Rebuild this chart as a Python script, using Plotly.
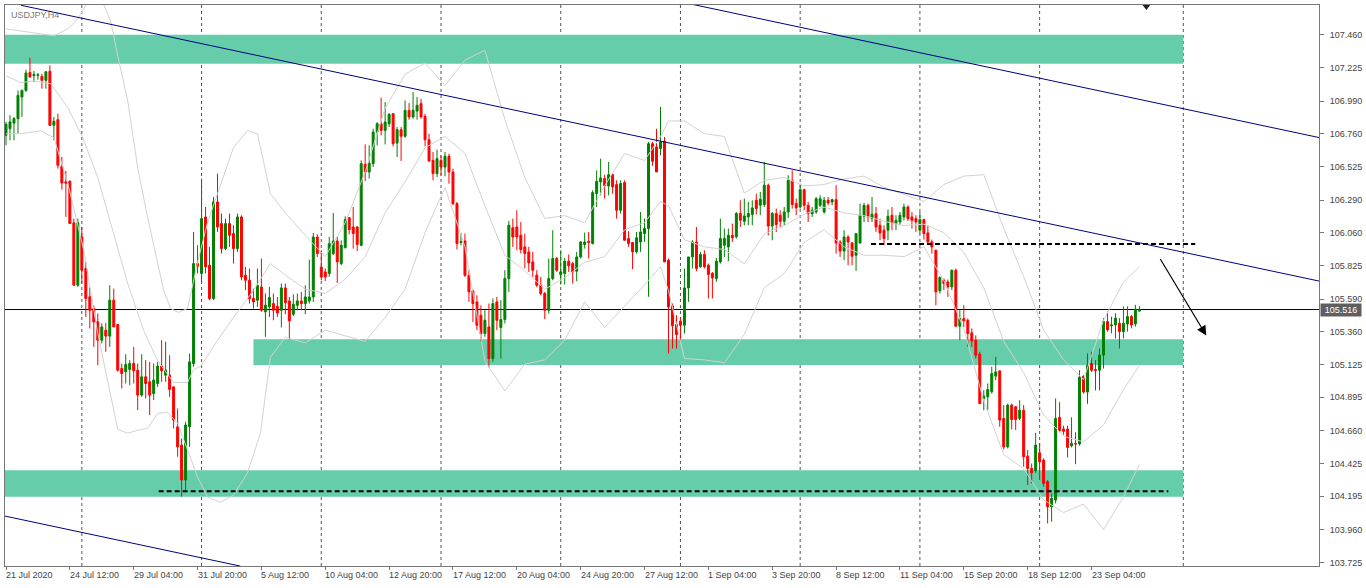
import plotly.graph_objects as go

# ---------------- data (USDJPY H4, bar index 0 = 21 Jul 2020 20:00) ----------------
opens = [
106.748,106.795,106.835,106.866,107.019,107.066,107.193,107.170,107.172,107.165,
107.137,107.201,106.819,106.859,106.529,106.420,106.423,106.129,105.688,106.030,
105.806,105.606,105.523,105.429,105.299,105.370,105.328,105.582,105.410,105.099,
105.076,105.092,105.134,105.087,104.911,105.040,105.005,104.922,104.993,105.116,
105.052,105.052,104.969,104.687,104.557,104.310,104.687,105.134,105.841,105.771,
106.171,105.829,105.594,106.277,106.124,105.947,106.124,106.053,105.947,106.171,
105.759,105.723,105.594,105.582,105.676,105.500,105.535,105.558,105.539,105.511,
105.669,105.577,105.483,105.546,105.577,105.558,105.577,105.605,106.029,105.817,
105.782,105.770,105.912,106.001,105.841,105.954,106.166,106.100,106.100,105.970,
106.543,106.489,106.548,106.771,106.830,106.783,106.830,106.901,106.694,106.788,
106.741,106.925,106.878,106.920,106.972,106.882,106.717,106.571,106.477,106.571,
106.524,106.600,106.489,106.265,105.990,106.001,105.758,105.648,105.570,105.476,
105.346,105.393,105.169,105.570,105.389,105.445,105.735,106.095,106.100,106.041,
105.959,105.923,105.853,105.759,105.688,105.629,105.511,105.735,105.877,105.763,
105.771,105.858,105.841,105.787,105.888,105.976,105.999,105.983,106.336,106.418,
106.442,106.390,106.470,106.400,106.218,106.414,106.018,105.990,105.924,105.994,
106.053,106.089,106.689,106.666,106.654,106.706,105.865,105.542,105.410,105.434,
105.405,105.669,105.888,105.994,105.818,105.905,105.829,105.771,105.735,105.853,
105.971,105.959,106.041,106.030,106.195,106.140,106.171,106.188,106.289,106.254,
106.258,106.395,106.107,106.195,106.183,106.140,106.206,106.430,106.265,106.241,
106.364,106.253,106.194,106.206,106.253,106.206,106.289,106.277,106.293,105.994,
105.930,106.029,105.987,105.900,105.987,106.176,106.253,106.159,106.194,106.112,
106.077,106.077,106.183,106.124,106.135,106.171,106.241,106.171,106.159,106.077,
106.152,106.058,105.994,105.935,105.648,105.723,105.711,105.676,105.794,105.398,
105.452,105.440,105.351,105.299,105.200,104.887,104.899,104.934,105.045,105.082,
104.746,104.545,104.840,104.828,104.746,104.804,104.479,104.392,104.376,104.503,
104.451,104.298,104.121,104.168,104.754,104.671,104.671,104.553,104.569,104.565,
105.044,104.932,105.134,105.092,105.087,105.194,105.431,105.400,105.407,105.419,
105.360,105.414,105.466,105.414,105.505]
highs = [
106.843,106.890,106.878,107.066,107.071,107.212,107.297,107.203,107.189,107.184,
107.203,107.243,106.878,106.901,106.595,106.496,106.430,106.159,106.159,106.100,
105.853,105.672,105.547,105.488,105.417,105.422,105.688,105.664,105.410,105.134,
105.200,105.158,105.252,105.134,105.200,105.158,105.146,105.134,105.146,105.299,
105.288,105.193,104.969,104.816,104.604,104.722,105.205,106.065,105.971,106.442,
106.242,105.959,106.312,106.477,106.195,106.159,106.195,106.112,106.195,106.183,
105.818,105.806,105.664,105.806,105.877,105.629,105.676,105.629,105.605,105.700,
105.700,105.605,105.624,105.629,105.641,105.688,105.869,106.058,106.048,105.935,
105.806,106.029,106.199,106.029,106.005,106.175,106.166,106.241,106.105,106.571,
106.684,106.677,106.795,106.842,107.014,106.984,106.906,106.906,106.807,106.807,
106.995,106.976,107.054,107.019,107.007,106.901,106.760,106.630,106.647,106.607,
106.630,106.618,106.512,106.277,106.058,106.053,105.794,105.657,105.617,105.546,
105.511,105.558,105.594,105.605,105.582,105.794,106.143,106.159,106.218,106.135,
106.053,105.959,105.924,105.794,105.747,105.641,105.877,106.077,105.888,105.935,
105.881,105.905,105.853,105.924,105.999,106.060,106.065,106.360,106.501,106.583,
106.470,106.560,106.477,106.430,106.430,106.430,106.070,105.994,106.065,106.206,
106.159,106.701,106.701,106.795,106.949,106.736,105.877,105.559,105.476,105.464,
105.806,105.888,106.006,106.100,105.924,105.935,105.841,105.782,105.881,106.159,
106.089,106.089,106.124,106.206,106.289,106.301,106.277,106.289,106.336,106.348,
106.560,106.407,106.206,106.230,106.218,106.242,106.466,106.501,106.301,106.406,
106.371,106.277,106.241,106.312,106.324,106.312,106.312,106.300,106.395,106.006,
106.077,106.041,105.994,106.058,106.265,106.270,106.265,106.312,106.241,106.159,
106.112,106.223,106.241,106.183,106.206,106.265,106.253,106.206,106.183,106.206,
106.159,106.112,106.011,105.940,105.751,105.735,105.728,105.799,105.806,105.511,
105.546,105.452,105.382,105.334,105.217,104.946,104.993,105.111,105.181,105.087,
104.840,104.851,104.851,104.833,104.875,104.840,104.522,104.427,104.644,104.570,
104.463,104.310,104.215,104.887,104.861,104.695,104.695,104.754,104.648,105.087,
105.051,105.205,105.217,105.158,105.241,105.455,105.502,105.466,105.490,105.455,
105.538,105.538,105.478,105.549,105.540]
lows = [
106.678,106.713,106.713,106.760,106.878,107.055,107.156,107.125,107.142,107.078,
107.078,106.815,106.713,106.513,106.364,106.171,106.124,105.688,105.676,105.700,
105.464,105.382,105.252,105.123,105.276,105.217,105.252,105.393,105.076,104.958,
104.993,104.981,104.993,104.805,104.899,104.887,104.769,104.875,104.969,105.005,
105.005,104.899,104.675,104.475,104.192,104.239,104.545,105.111,105.771,105.700,
105.771,105.582,105.582,106.065,105.912,105.936,105.959,105.841,105.924,105.723,
105.653,105.558,105.523,105.535,105.500,105.323,105.464,105.440,105.464,105.389,
105.483,105.304,105.469,105.511,105.511,105.483,105.558,105.570,105.888,105.723,
105.718,105.747,105.900,105.704,105.829,105.947,106.048,105.947,105.930,105.963,
106.425,106.442,106.524,106.677,106.748,106.684,106.807,106.670,106.595,106.567,
106.731,106.859,106.866,106.859,106.866,106.670,106.559,106.430,106.453,106.465,
106.458,106.406,106.253,105.940,105.970,105.747,105.570,105.429,105.370,105.287,
105.323,105.106,105.146,105.370,105.169,105.417,105.641,105.959,105.935,105.912,
105.806,105.782,105.747,105.676,105.617,105.448,105.488,105.723,105.782,105.693,
105.693,105.782,105.700,105.716,105.877,105.947,105.877,105.976,106.242,106.324,
106.301,106.324,106.336,106.159,106.195,106.006,105.959,105.801,105.912,105.924,
105.994,105.606,106.532,106.489,106.607,105.853,105.205,105.240,105.240,105.288,
105.346,105.570,105.806,105.787,105.811,105.806,105.594,105.594,105.712,105.841,
105.888,105.858,105.994,106.018,106.100,106.112,106.112,106.112,106.188,106.183,
106.242,106.041,106.006,106.065,106.100,106.112,106.164,106.230,106.183,106.230,
106.218,106.135,106.171,106.194,106.241,106.194,106.253,106.253,105.912,105.888,
105.865,105.829,105.829,105.789,105.982,106.135,106.135,106.135,106.065,106.006,
105.971,106.006,106.077,106.077,106.112,106.147,106.143,106.088,106.065,106.053,
106.011,105.982,105.912,105.546,105.629,105.653,105.605,105.653,105.393,105.299,
105.393,105.252,105.252,105.170,104.847,104.804,104.804,104.922,105.016,104.687,
104.526,104.533,104.668,104.663,104.734,104.404,104.274,104.286,104.361,104.310,
104.262,104.003,104.015,104.145,104.648,104.630,104.470,104.541,104.422,104.553,
104.921,104.849,105.075,104.944,104.944,105.099,105.360,105.348,105.312,105.241,
105.312,105.360,105.383,105.395,105.500]
closes = [
106.826,106.843,106.866,107.031,107.066,107.189,107.161,107.179,107.176,107.137,
107.198,106.819,106.847,106.536,106.411,106.410,106.124,105.688,106.129,105.794,
105.594,105.511,105.429,105.299,105.393,105.328,105.582,105.393,105.087,105.064,
105.127,105.134,105.083,104.911,105.040,104.993,104.911,105.017,105.116,105.083,
105.087,104.951,104.734,104.545,104.310,104.699,105.146,105.841,105.822,106.159,
105.818,105.594,106.277,106.100,105.947,106.124,106.041,105.947,106.171,105.747,
105.723,105.594,105.570,105.688,105.511,105.547,105.601,105.511,105.492,105.669,
105.565,105.436,105.553,105.577,105.558,105.605,105.605,106.029,105.912,105.747,
105.747,105.982,106.001,105.853,105.970,106.152,106.081,106.053,105.977,106.548,
106.489,106.552,106.771,106.830,106.783,106.842,106.896,106.689,106.788,106.741,
106.925,106.878,106.925,106.960,106.878,106.717,106.567,106.477,106.583,106.524,
106.600,106.489,106.265,105.982,105.996,105.758,105.641,105.558,105.405,105.346,
105.440,105.169,105.558,105.440,105.445,105.735,106.112,106.029,106.029,105.940,
105.912,105.846,105.794,105.688,105.629,105.511,105.735,105.877,105.794,105.782,
105.858,105.825,105.782,105.888,105.994,105.994,105.990,106.343,106.423,106.447,
106.390,106.470,106.383,106.218,106.407,106.006,105.983,105.924,106.023,106.065,
106.089,106.689,106.565,106.489,106.701,105.853,105.535,105.401,105.339,105.405,
105.669,105.888,105.994,105.806,105.905,105.818,105.763,105.740,105.858,106.018,
106.018,106.041,106.023,106.195,106.148,106.178,106.195,106.235,106.230,106.296,
106.395,106.107,106.195,106.117,106.140,106.206,106.430,106.258,106.235,106.364,
106.253,106.194,106.218,106.300,106.300,106.289,106.270,106.293,105.987,105.930,
106.029,105.994,105.893,106.053,106.183,106.253,106.171,106.190,106.100,106.058,
106.018,106.176,106.128,106.147,106.183,106.241,106.159,106.147,106.135,106.152,
106.053,105.994,105.959,105.641,105.742,105.700,105.676,105.794,105.398,105.452,
105.436,105.346,105.294,105.193,104.851,104.903,104.950,105.063,105.075,104.734,
104.545,104.840,104.738,104.738,104.804,104.475,104.392,104.361,104.557,104.439,
104.286,104.121,104.180,104.746,104.660,104.655,104.541,104.569,104.565,105.039,
104.932,105.122,105.087,105.087,105.194,105.431,105.372,105.407,105.455,105.360,
105.419,105.466,105.407,105.519,105.516]
bars = list(range(len(opens)))

# Bollinger band (20, 2) readings: (bar index, price)
band_upper_bars = [0, 3.75, 8.75, 12, 15.5, 18, 20, 23.75, 26.25, 28, 30.5, 33, 35.5, 38, 39.5,
                   41.25, 43.25, 45.5, 48, 50.5, 53, 57, 60.5, 63, 64.5, 66.25,
                   70, 75, 80, 85, 90, 95, 100, 105, 110, 115, 120, 125, 130, 135, 140, 145,
                   150, 155, 160, 164, 166, 170, 175, 180, 185, 190, 195, 200, 205, 210, 215,
                   220, 225, 230, 235, 240, 245, 250, 255, 260, 265, 270, 275, 280, 284]
band_upper_vals = [107.501, 107.487, 107.466, 107.452, 107.501, 107.572, 107.670, 107.720, 107.557,
                   107.310, 106.993, 106.519, 106.166, 105.841, 105.651, 105.524, 105.495, 105.524,
                   105.848, 106.131, 106.336, 106.661, 106.781, 106.759, 106.568, 106.336,
                   106.20, 106.04, 105.89, 106.13, 106.49, 106.94, 107.18, 107.26, 107.10, 107.28,
                   107.35, 106.86, 106.45, 106.16, 106.18, 106.13, 106.39, 106.62, 106.57, 106.74,
                   106.85, 106.85, 106.76, 106.74, 106.34, 106.43, 106.45, 106.39, 106.40, 106.44,
                   106.46, 106.38, 106.33, 106.28, 106.40, 106.46, 106.47, 106.09, 105.75, 105.37,
                   105.16, 105.02, 105.44, 105.71, 105.82]
band_mid_bars = [0, 3.75, 7, 11.25, 15.5, 19.25, 23, 26.25, 30.5, 34.5, 38, 42, 45.5, 47, 48.75,
                 53, 57, 62, 66.25,
                 70, 75, 80, 85, 90, 95, 100, 105, 110, 115, 120, 125, 130, 135, 140, 145,
                 150, 155, 160, 164, 166, 170, 175, 180, 185, 190, 195, 200, 205, 210, 215,
                 220, 225, 230, 235, 240, 245, 250, 255, 260, 265, 270, 275, 280, 284]
band_mid_vals = [107.169, 107.120, 107.134, 107.113, 106.943, 106.731, 106.449, 106.124, 105.700,
                 105.368, 105.154, 105.000, 105.000, 105.092, 105.113, 105.298, 105.460, 105.651,
                 105.841,
                 105.76, 105.66, 105.63, 105.73, 105.89, 106.20, 106.42, 106.66, 106.74, 106.62,
                 106.25, 105.90, 105.79, 105.66, 105.74, 105.85, 105.89, 106.08, 106.13, 106.28,
                 106.25, 106.01, 105.96, 105.94, 105.84, 106.05, 106.11, 106.19, 106.24, 106.20,
                 106.18, 106.14, 106.11, 106.12, 106.06, 105.92, 105.67, 105.29, 105.07, 104.77,
                 104.62, 104.58, 104.70, 104.95, 105.12]
band_low_bars = [0, 3.75, 8.75, 12, 15.5, 19.5, 23, 25.5, 28, 30.5, 33, 35.5, 38, 40.5, 43, 45.5,
                 48, 50.5, 53.75, 57, 60.5, 63.75, 66.25,
                 70, 75, 80, 85, 90, 95, 100, 105, 110, 115, 120, 125, 130, 135, 140, 145,
                 150, 155, 160, 164, 166, 170, 175, 180, 185, 190, 195, 200, 205, 210, 215,
                 220, 225, 230, 235, 240, 245, 250, 255, 260, 265, 270, 275, 280, 284]
band_low_vals = [106.759, 106.759, 106.781, 106.731, 106.406, 105.933, 105.347, 105.000, 104.669,
                 104.641, 104.662, 104.676, 104.782, 104.789, 104.712, 104.522, 104.331, 104.189,
                 104.153, 104.203, 104.359, 104.641, 105.178,
                 105.32, 105.28, 105.37, 105.33, 105.29, 105.46, 105.66, 106.06, 106.38, 105.96,
                 105.15, 104.94, 105.13, 105.16, 105.30, 105.57, 105.39, 105.54, 105.69, 105.82,
                 105.65, 105.17, 105.16, 105.14, 105.34, 105.67, 105.77, 105.99, 106.08, 105.96,
                 105.90, 105.90, 105.89, 105.96, 105.72, 105.38, 104.87, 104.49, 104.39, 104.17,
                 104.08, 104.14, 103.96, 104.19, 104.42]

# axis labels
x_label_bars = [0, 16, 32, 48, 64, 80, 96, 112, 128, 144, 160, 176, 192, 208, 224, 240, 256, 272]
x_label_text = ["21 Jul 2020", "24 Jul 12:00", "29 Jul 04:00", "31 Jul 20:00", "5 Aug 12:00",
                "10 Aug 04:00", "12 Aug 20:00", "17 Aug 12:00", "20 Aug 04:00", "24 Aug 20:00",
                "27 Aug 12:00", "1 Sep 04:00", "3 Sep 20:00", "8 Sep 12:00", "11 Sep 04:00",
                "15 Sep 20:00", "18 Sep 12:00", "23 Sep 04:00"]
y_tick_vals = [107.460, 107.225, 106.990, 106.760, 106.525, 106.290, 106.060, 105.825, 105.590,
               105.360, 105.125, 104.895, 104.660, 104.425, 104.195, 103.960, 103.725]
y_tick_text = ["%.3f" % v for v in y_tick_vals]

# chart objects
sep_bars = [19, 49, 79, 109, 139, 169, 199, 229, 259, 295]
zone_start = [-1, 62, -1]
zone_end = [295, 295, 295]
zone_low = [107.255, 105.123, 104.191]
zone_high = [107.460, 105.305, 104.379]
trend_bars = [(3.75, 329.25), (170.25, 329.25), (-0.25, 58.75)]
trend_prices = [(107.668, 105.716), (107.685, 106.731), (104.055, 103.701)]
level_bars = [(38.25, 291.25), (216.75, 298.0)]
level_prices = [104.231, 105.980]
arrow_bars = (289.0, 300.75)
arrow_prices = (105.884, 105.333)
current_price = 105.516
shift_marker_bar = 285.75
x_range = [-0.25, 329.0]
y_range = [103.702, 107.670]

FONT = "Liberation Sans"
BAND = "#d2d2d2"

fig = go.Figure()

for bx, by in ((band_upper_bars, band_upper_vals), (band_mid_bars, band_mid_vals),
               (band_low_bars, band_low_vals)):
    fig.add_trace(go.Scatter(x=bx, y=by, mode="lines", line=dict(color=BAND, width=1),
                             hoverinfo="skip", showlegend=False))

fig.add_trace(go.Candlestick(
    x=bars, open=opens, high=highs, low=lows, close=closes,
    increasing=dict(line=dict(color="#008000", width=1), fillcolor="#008000"),
    decreasing=dict(line=dict(color="#ff0000", width=1), fillcolor="#ff0000"),
    whiskerwidth=0, showlegend=False, hoverinfo="skip"))

for (b0, b1), (p0, p1) in zip(trend_bars, trend_prices):
    fig.add_trace(go.Scatter(x=[b0, b1], y=[p0, p1], mode="lines",
                             line=dict(color="#000080", width=1), hoverinfo="skip", showlegend=False))

for (b0, b1), p in zip(level_bars, level_prices):
    fig.add_trace(go.Scatter(x=[b0, b1], y=[p, p], mode="lines",
                             line=dict(color="#000000", width=2, dash="5px,3px"),
                             hoverinfo="skip", showlegend=False))

fig.add_trace(go.Scatter(x=[shift_marker_bar], y=[y_range[1] - 0.01], mode="markers",
                         marker=dict(symbol="triangle-down", size=7, color="#222"),
                         cliponaxis=False, hoverinfo="skip", showlegend=False))

shapes = []
for s, e, lo, hi in zip(zone_start, zone_end, zone_low, zone_high):
    shapes.append(dict(type="rect", xref="x", yref="y", x0=s, x1=e, y0=lo, y1=hi,
                       fillcolor="#66CDAA", line=dict(width=0), layer="below"))
for b in sep_bars:
    shapes.append(dict(type="line", xref="x", yref="paper", x0=b, x1=b, y0=0, y1=1,
                       line=dict(color="#555555", width=1, dash="3px,3px"), layer="below"))
shapes.append(dict(type="line", xref="paper", yref="y", x0=0, x1=1, y0=current_price, y1=current_price,
                   line=dict(color="#000000", width=1), layer="below"))

annotations = []
for b, t in zip(x_label_bars, x_label_text):
    annotations.append(dict(x=b, y=0, xref="x", yref="paper", text=t, showarrow=False,
                            xanchor="left", yanchor="top", xshift=-2, yshift=-2,
                            font=dict(family=FONT, size=9, color="#444")))
annotations.append(dict(x=0, y=1, xref="paper", yref="paper", text="USDJPY,H4", showarrow=False,
                        xanchor="left", yanchor="top", xshift=4, yshift=-3,
                        font=dict(family=FONT, size=9, color="#777")))
annotations.append(dict(x=1, y=current_price, xref="paper", yref="y", text="%.3f" % current_price,
                        showarrow=False, xanchor="left", yanchor="middle", xshift=1,
                        bgcolor="#5f5f5f", width=38, height=10, borderpad=1,
                        font=dict(family=FONT, size=9, color="#ffffff")))
annotations.append(dict(x=arrow_bars[1], y=arrow_prices[1], ax=arrow_bars[0], ay=arrow_prices[0],
                        xref="x", yref="y", axref="x", ayref="y", text="", showarrow=True,
                        arrowhead=2, arrowsize=1.6, arrowwidth=1.2, arrowcolor="#000000"))

fig.update_layout(
    width=1366, height=588, autosize=False,
    margin=dict(l=4, r=45, t=4, b=22),
    paper_bgcolor="white", plot_bgcolor="white",
    font=dict(family=FONT, size=9, color="#444"),
    shapes=shapes, annotations=annotations, showlegend=False,
    xaxis=dict(range=x_range, rangeslider=dict(visible=False), showgrid=False, zeroline=False,
               showline=True, linecolor="#777", linewidth=1, mirror=True,
               tickmode="array", tickvals=x_label_bars, ticktext=[""] * len(x_label_bars),
               ticks="outside", ticklen=3, tickcolor="#777"),
    yaxis=dict(range=y_range, side="right", showgrid=False, zeroline=False,
               showline=True, linecolor="#777", linewidth=1, mirror=True,
               tickmode="array", tickvals=y_tick_vals, ticktext=y_tick_text,
               ticks="outside", ticklen=4, tickcolor="#777", ticklabelstandoff=4,
               tickfont=dict(family=FONT, size=9, color="#444")),
)

fig.write_html("out.html", config={"displayModeBar": False},
               post_script="document.body.style.margin='0px';")
